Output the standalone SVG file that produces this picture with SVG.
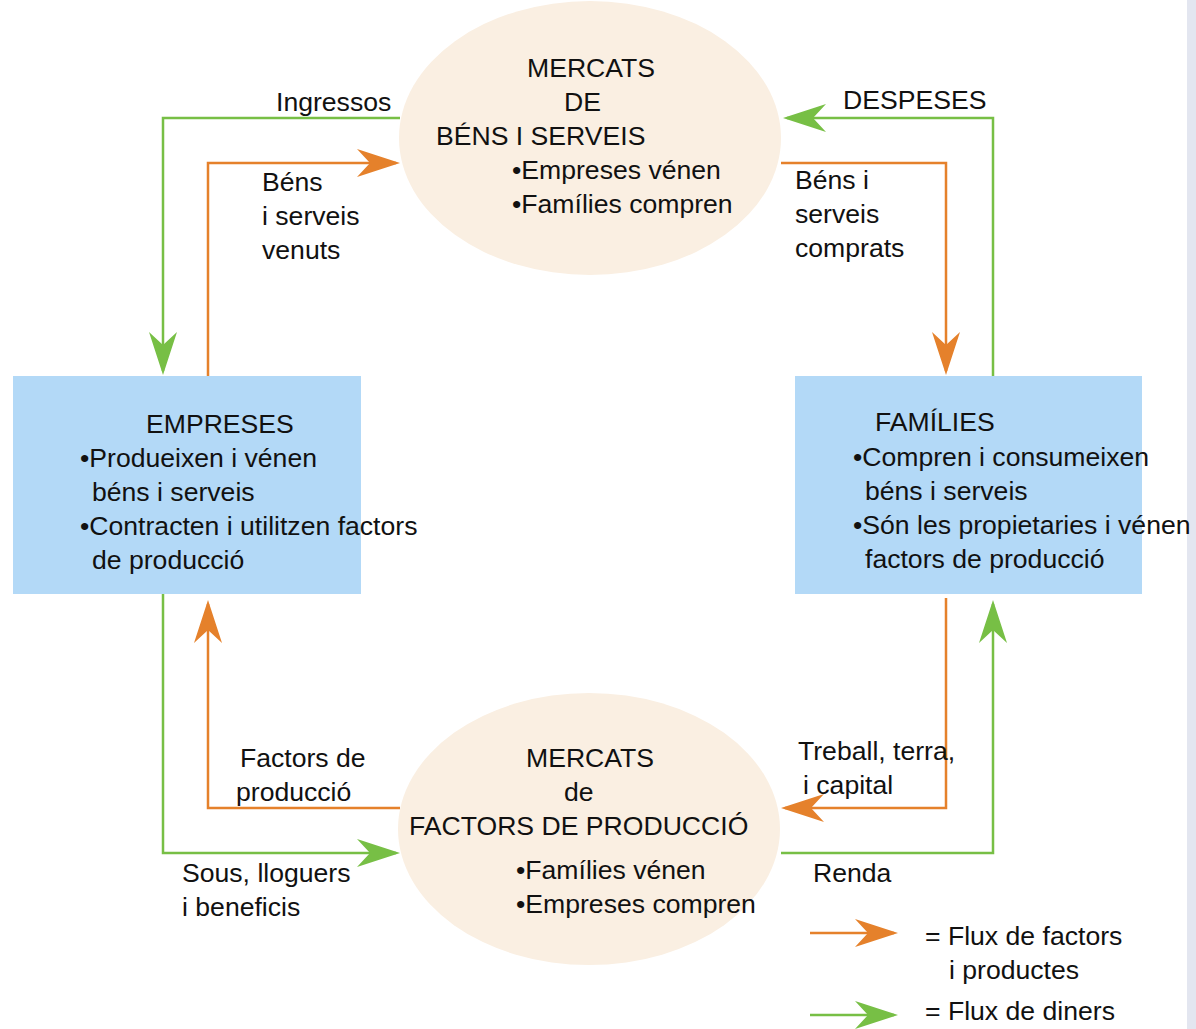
<svg xmlns="http://www.w3.org/2000/svg" width="1196" height="1029" viewBox="0 0 1196 1029">
<style>
text{font-family:"Liberation Sans",Arial,sans-serif;font-size:26.6px;fill:#111}
.ell{fill:#faefe2}
.box{fill:#b3d9f7}
.or{fill:none;stroke:#e5812b;stroke-width:2.5}
.gr{fill:none;stroke:#77bf45;stroke-width:2.5}
</style>
<defs>
<marker id="ao" markerUnits="userSpaceOnUse" viewBox="-45 -16 50 32" markerWidth="50" markerHeight="32" refX="-4" refY="0" orient="auto">
<path d="M0,0 L-43,-14 L-30,0 L-43,14 Z" fill="#e5812b"/>
</marker>
<marker id="ag" markerUnits="userSpaceOnUse" viewBox="-45 -16 50 32" markerWidth="50" markerHeight="32" refX="-4" refY="0" orient="auto">
<path d="M0,0 L-43,-14 L-30,0 L-43,14 Z" fill="#77bf45"/>
</marker>
</defs>
<rect width="1196" height="1029" fill="#ffffff"/>
<rect x="1187" y="0" width="9" height="1029" fill="#e3e6f0"/>

<g id="connectors">
<path class="gr" d="M400,118 H163 V371" marker-end="url(#ag)"/>
<path class="or" d="M208,376 V163 H396" marker-end="url(#ao)"/>
<path class="gr" d="M993,376 V118 H787" marker-end="url(#ag)"/>
<path class="or" d="M781,163 H946 V371" marker-end="url(#ao)"/>
<path class="gr" d="M163,594 V853 H396" marker-end="url(#ag)"/>
<path class="or" d="M400,808 H208 V604" marker-end="url(#ao)"/>
<path class="or" d="M946,598 V808 H785" marker-end="url(#ao)"/>
<path class="gr" d="M781,853 H993 V604" marker-end="url(#ag)"/>
<path class="or" d="M810,933 H894" marker-end="url(#ao)"/>
<path class="gr" d="M810,1015 H894" marker-end="url(#ag)"/>
</g>

<g id="mercats-bens">
<ellipse class="ell" cx="590" cy="138" rx="191" ry="137"/>
<text x="527" y="77">MERCATS</text>
<text x="564" y="111">DE</text>
<text x="436" y="145">BÉNS I SERVEIS</text>
<text x="512" y="179">•Empreses vénen</text>
<text x="512" y="213">•Famílies compren</text>
</g>

<g id="mercats-factors">
<ellipse class="ell" cx="589" cy="829" rx="191" ry="136"/>
<text x="526" y="767">MERCATS</text>
<text x="564" y="801">de</text>
<text x="409" y="835">FACTORS DE PRODUCCIÓ</text>
<text x="516" y="879">•Famílies vénen</text>
<text x="516" y="913">•Empreses compren</text>
</g>

<g id="empreses">
<rect class="box" x="13" y="376" width="348" height="218"/>
<text x="146" y="433">EMPRESES</text>
<text x="80" y="467">•Produeixen i vénen</text>
<text x="92" y="501">béns i serveis</text>
<text x="80" y="535">•Contracten i utilitzen factors</text>
<text x="92" y="569">de producció</text>
</g>

<g id="families">
<rect class="box" x="795" y="376" width="347" height="218"/>
<text x="875" y="431">FAMÍLIES</text>
<text x="853" y="466">•Compren i consumeixen</text>
<text x="865" y="500">béns i serveis</text>
<text x="853" y="534">•Són les propietaries i vénen</text>
<text x="865" y="568">factors de producció</text>
</g>

<g id="labels">
<text x="276" y="111">Ingressos</text>
<text x="843" y="109">DESPESES</text>
<text x="262" y="191">Béns</text>
<text x="262" y="225">i serveis</text>
<text x="262" y="259">venuts</text>
<text x="795" y="189">Béns i</text>
<text x="795" y="223">serveis</text>
<text x="795" y="257">comprats</text>
<text x="240" y="767">Factors de</text>
<text x="236" y="801">producció</text>
<text x="182" y="882">Sous, lloguers</text>
<text x="182" y="916">i beneficis</text>
<text x="798" y="760">Treball, terra,</text>
<text x="803" y="794">i capital</text>
<text x="813" y="882">Renda</text>
</g>

<g id="legend">
<text x="925" y="945">= Flux de factors</text>
<text x="949" y="979">i productes</text>
<text x="925" y="1020">= Flux de diners</text>
</g>
</svg>
